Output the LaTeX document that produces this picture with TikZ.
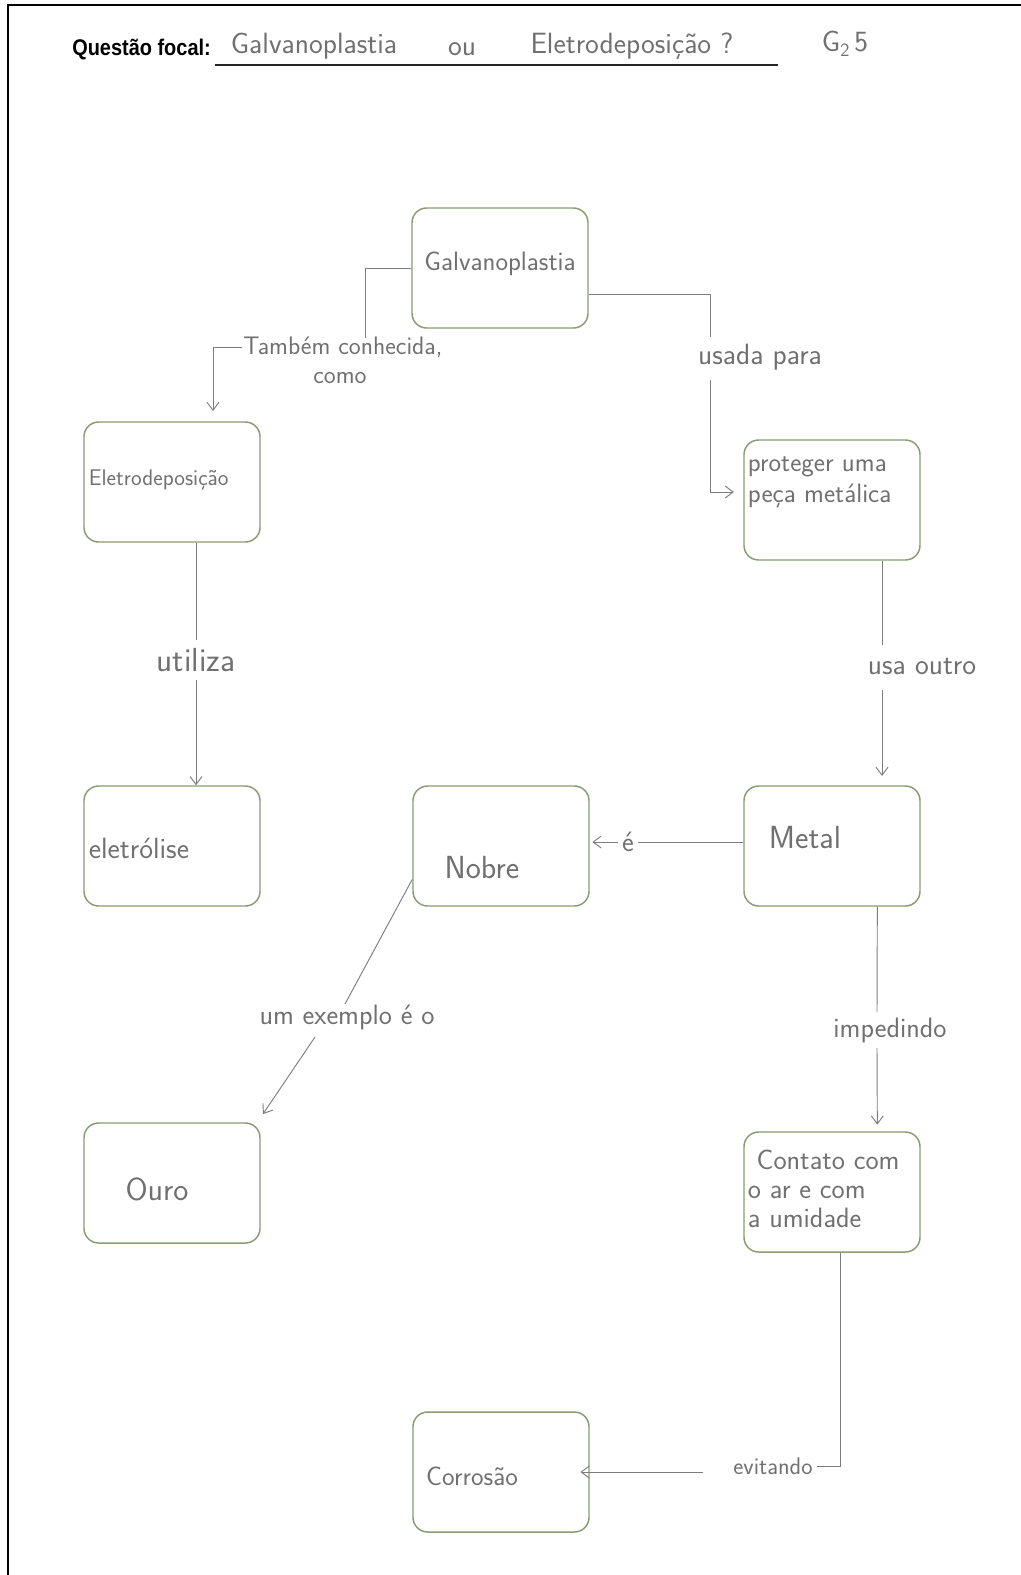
\documentclass[tikz,border=0pt]{standalone}
\usepackage{fontspec}
\usetikzlibrary{arrows.meta}
\newfontfamily\hdrfont[FakeStretch=0.88]{Liberation Sans}
% handwriting-like text: size and line distance
\newcommand\hsz[2]{\sffamily\fontsize{#1}{#2}\selectfont}
\definecolor{boxgreen}{RGB}{138,156,116}
\definecolor{ink}{RGB}{112,112,112}
\definecolor{wire}{RGB}{125,125,125}
\begin{document}
\begin{tikzpicture}[x=0.75pt,y=-0.75pt,
  box/.style={draw=boxgreen, line width=1.1pt, rounded corners=11pt,
              minimum width=132pt, minimum height=90pt, inner sep=0pt},
  hw/.style={text=ink, inner sep=2pt, align=left},
  lbl/.style={text=ink, inner sep=6pt, align=center},
  wire/.style={draw=wire, line width=0.7pt},
  arr/.style={wire, -{Straight Barb[length=6pt,width=9pt]}}
]
\useasboundingbox (0,0) rectangle (1021,1575);

% page frame
\draw[line width=2.2pt] (8,1575) -- (8,5) -- (1021,5);

% header
\node[anchor=west, inner sep=0pt, font=\hdrfont\bfseries\fontsize{17}{20}\selectfont] (qf) at (72,50) {Questão focal:};
\node[font=\hsz{22}{26}, text=ink] (q1) at (314,46) {Galvanoplastia};
\node[font=\hsz{22}{26}, text=ink] (q2) at (462,49) {ou};
\node[font=\hsz{22}{26}, text=ink] (q3) at (632,46) {Eletrodeposição ?};
\draw[black!85, line width=1pt] (215,65) -- (778,65);
\node[font=\hsz{22}{26}, text=ink] (grp) at (845,44) {G\raisebox{-0.4ex}{\fontsize{14}{16}\selectfont 2}\,5};

% concept boxes
\node[box] (gal) at (500,268) {};
\node[box] (ele) at (172,482) {};
\node[box] (pro) at (832,500) {};
\node[box] (eli) at (172,846) {};
\node[box] (nob) at (501,846) {};
\node[box] (met) at (832,846) {};
\node[box] (our) at (172,1183) {};
\node[box] (con) at (832,1192) {};
\node[box] (cor) at (501,1472) {};

% box texts
\node[hw, font=\hsz{20}{24}] (galT) at (500,264) {Galvanoplastia};
\node[hw, font=\hsz{17}{20}, anchor=west] (eleT) at (86,480) {Eletrodeposição};
\node[hw, font=\hsz{20}{23}, anchor=west] (proT) at (745,482) {proteger uma\\peça metálica};
\node[hw, font=\hsz{22}{26}, anchor=west] (eliT) at (86,848) {eletrólise};
\node[hw, font=\hsz{24}{28}] (nobT) at (482,868) {Nobre};
\node[hw, font=\hsz{24}{28}] (metT) at (805,838) {Metal};
\node[hw, font=\hsz{24}{28}] (ourT) at (157,1189) {Ouro};
\node[hw, font=\hsz{21}{22}, anchor=west] (conT) at (745,1189) {\ Contato com\\o ar e com\\a umidade};
\node[hw, font=\hsz{20}{24}] (corT) at (472,1476) {Corrosão};

% link labels
\node[lbl, font=\hsz{19}{22}, inner sep=1pt] (lTam) at (343,347) {Também conhecida,};
\node[lbl, font=\hsz{19}{22}, inner sep=1pt] (lTam2) at (340,378) {como};
\node[lbl, font=\hsz{22}{26}] (lUsa) at (760,357) {usada para};
\node[lbl, font=\hsz{22}{26}] (lUsaO) at (922,666) {usa outro};
\node[lbl, font=\hsz{25}{30}] (lUti) at (196,660) {utiliza};
\node[lbl, font=\hsz{21}{24}, inner sep=3pt] (lE) at (628,842) {é};
\node[lbl, font=\hsz{21}{24}] (lEx) at (347,1018) {um exemplo é o};
\node[lbl, font=\hsz{21}{24}] (lImp) at (890,1030) {impedindo};
\node[lbl, font=\hsz{18}{20}, inner sep=3pt] (lEvi) at (773,1466) {evitando};

% junction points
\coordinate (j1) at (365,338);
\coordinate (j2) at (710,337);
\coordinate (j3) at (710,380);
\coordinate (j4) at (882,645);
\coordinate (j5) at (882,690);
\coordinate (j6) at (877,1012);
\coordinate (j7) at (877,1048);
\coordinate (j8) at (703,1472);
\coordinate (j9) at (345,1004);
\coordinate (j10) at (315,1037);
\coordinate (eleIn) at (213,411);

% connectors
\draw[wire] (gal.west) -| (j1);
\draw[arr] (lTam.west) -| (eleIn);

\draw[wire] ([yshift=-20pt]gal.east) -| (j2);
\draw[arr] (j3) |- ([xshift=-7pt,yshift=6pt]pro.west);

\draw[wire] ([xshift=37.5pt]pro.south) -- (j4);
\draw[arr] (j5) -- ([xshift=37.5pt,yshift=7pt]met.north);

\draw[wire] (lUti.north |- ele.south) -- (lUti.north);
\draw[arr] (lUti.south) -- (lUti.south |- eli.north);

\draw[wire] (lE.east -| met.west) -- (lE.east);
\draw[arr, shorten >=2pt] (lE.west) -- (lE.west -| nob.east);

\draw[wire] ([yshift=-25pt]nob.west) -- (j9);
\draw[arr] (j10) -- (263,1114);

\draw[wire] ([xshift=34pt]met.south) -- (j6);
\draw[arr] (j7) -- ([xshift=34pt,yshift=5pt]con.north);

\draw[wire] ([xshift=6pt]con.south) |- (lEvi.east);
\draw[arr] (j8) -- ([xshift=-7pt]cor.east);
\end{tikzpicture}
\end{document}
